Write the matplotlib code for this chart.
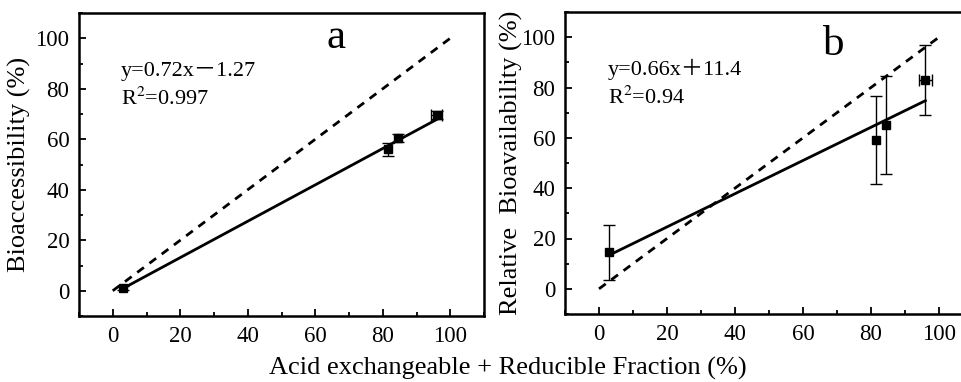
import numpy as np
import matplotlib
matplotlib.use('Agg')
from matplotlib import pyplot as plt
from matplotlib.ticker import MultipleLocator

plt.rcParams['font.family'] = ['Liberation Serif', 'Noto Sans CJK SC', 'DejaVu Serif']
plt.rcParams['mathtext.fontset'] = 'stix'

# panel a: bioaccessibility
xa = [3, 81.5, 84.5, 96]
ya = [1, 56, 60.5, 69.5]
xa_err = [0, 0, 0, 1.6]
ya_err = [0.8, 2.5, 1.5, 1.5]
slope_a, icpt_a = 0.72, -1.27

# panel b: relative bioavailability
xb = [3, 81.5, 84.5, 96]
yb = [14.5, 59, 65, 83]
xb_err = [0, 0, 0, 2.0]
yb_err = [11, 17.5, 19.5, 14]
slope_b, icpt_b = 0.66, 11.4

W, H = 961, 382
fig = plt.figure(figsize=(W / 100, H / 100), dpi=100)

def setup(ax):
    ax.set_xlim(-10, 110)
    ax.set_ylim(-10, 110)
    ax.set_xticks([0, 20, 40, 60, 80, 100])
    ax.set_yticks([0, 20, 40, 60, 80, 100])
    ax.xaxis.set_minor_locator(MultipleLocator(10))
    ax.yaxis.set_minor_locator(MultipleLocator(10))
    ax.tick_params(which='both', direction='in', top=False, right=False, labelsize=16.5, width=1.3)
    ax.tick_params(which='major', length=5, pad=7)
    ax.tick_params(which='minor', length=3)
    for s in ax.spines.values():
        s.set_linewidth(1.8)

def draw(ax, x, y, xe, ye, m, c, letter, eq, r2, lx, ly):
    ax.plot([0, 100], [0, 100], ls=(0, (3, 2.5)), color='black', lw=2)
    xf = np.array([x[0], x[-1]])
    ax.plot(xf, m * xf + c, color='black', lw=2)
    ax.errorbar(x, y, yerr=ye, fmt='s', color='black', ms=5.5,
                ecolor='black', elinewidth=1, capsize=4, capthick=1)
    # horizontal error bars only where the x spread is visible
    for xi, yi, ei in zip(x, y, xe):
        if ei > 0:
            ax.errorbar([xi], [yi], xerr=[ei], fmt='none', ecolor='black',
                        elinewidth=1, capsize=4, capthick=1)
    ax.text(lx, ly, letter, fontsize=31, ha='center', va='center')
    ax.text(2.5, 87, eq, fontsize=16, va='center')
    ax.text(2.5, 76, r2, fontsize=16, va='center')

ax1 = fig.add_axes([79 / W, 1 - 316 / H, 405 / W, 303 / H])
setup(ax1)
draw(ax1, xa, ya, xa_err, ya_err, slope_a, icpt_a, 'a',
     'y=0.72x\uff0d1.27', 'R$^2$=0.997', 66, 100)
ax1.set_ylabel('Bioaccessibility (%)', fontsize=19, labelpad=3)

ax2 = fig.add_axes([565 / W, 1 - 314 / H, 408 / W, 302 / H])
setup(ax2)
draw(ax2, xb, yb, xb_err, yb_err, slope_b, icpt_b, 'b',
     'y=0.66x\uff0b11.4', 'R$^2$=0.94', 69, 97)
ax2.set_ylabel('Relative  Bioavailability (%)', fontsize=19, labelpad=-1)

fig.text(508 / W, 1 - 368 / H, 'Acid exchangeable + Reducible Fraction (%)',
         fontsize=19, ha='center', va='center')

fig.savefig('out.png', dpi=100)
